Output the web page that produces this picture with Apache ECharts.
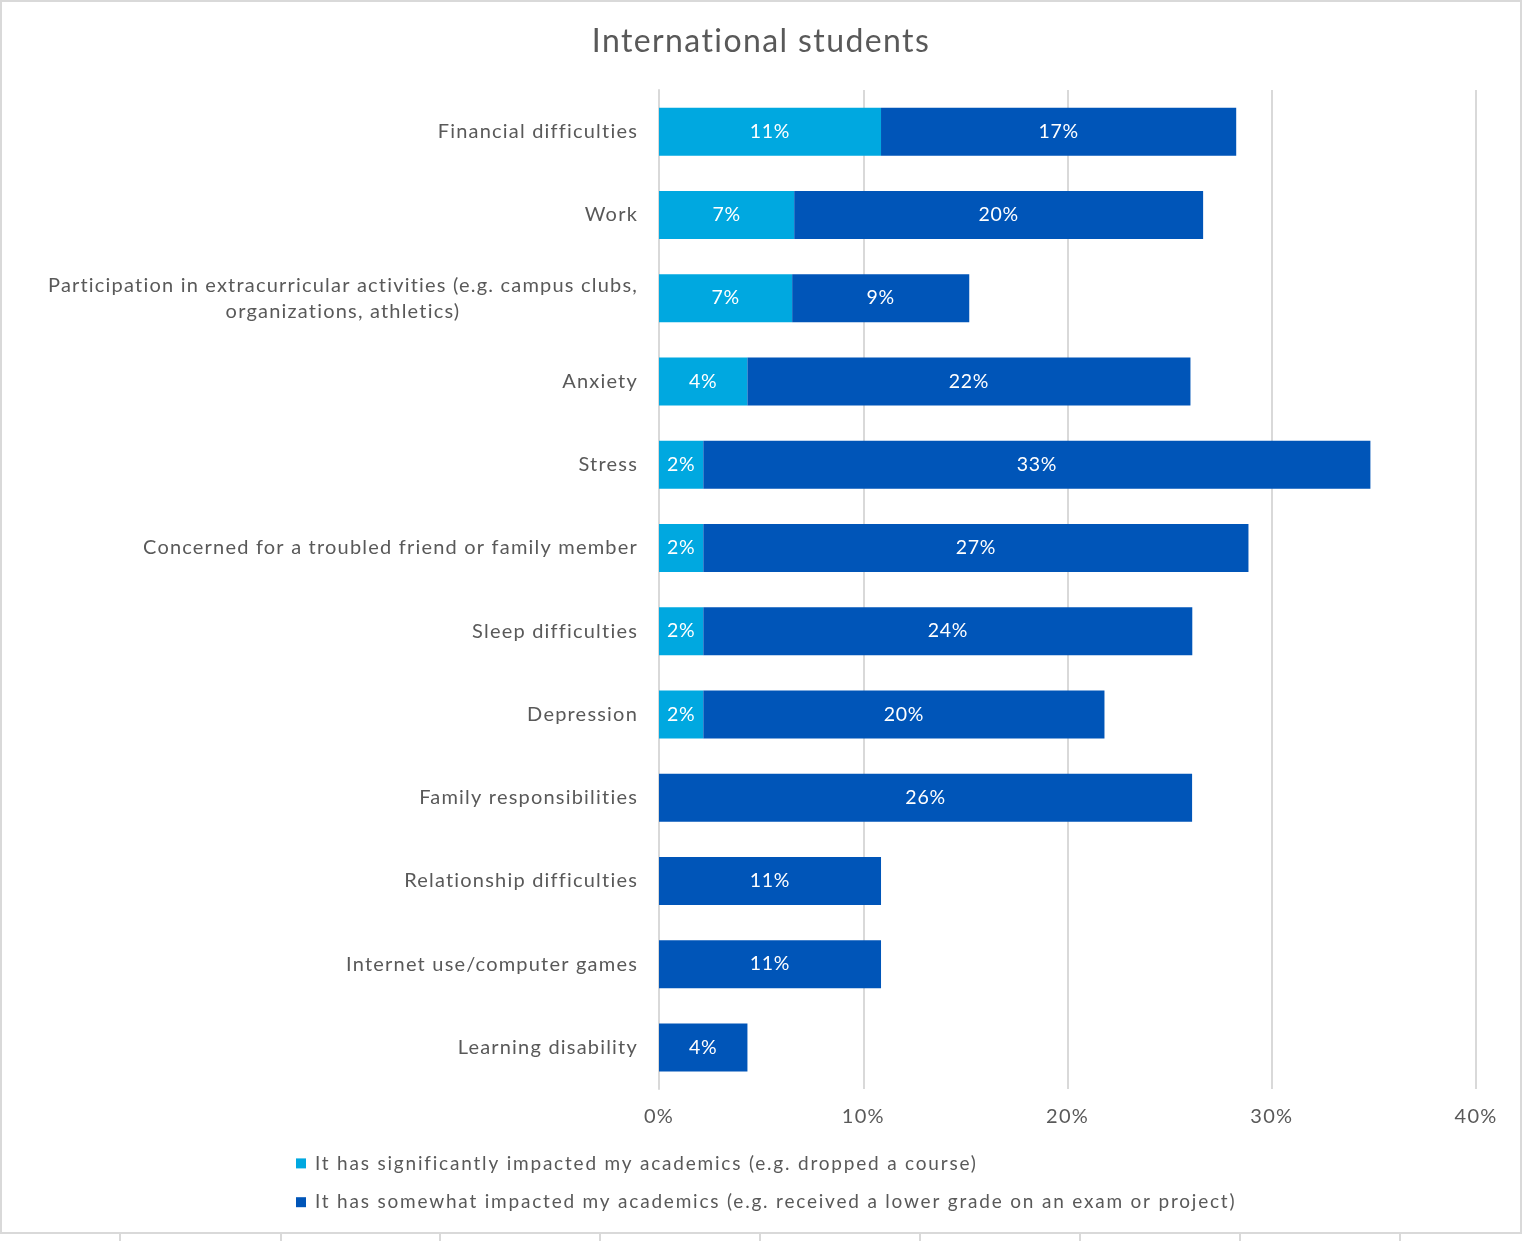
<!DOCTYPE html>
<html>
<head>
<meta charset="utf-8">
<script src="https://cdn.jsdelivr.net/npm/echarts@6/dist/echarts.min.js"></script>
<style>
html,body{margin:0;padding:0;background:#fff;}
#chart{width:1522px;height:1241px;}
</style>
</head>
<body>
<div id="chart"></div>
<script>
const categories = [
  'Financial difficulties',
  'Work',
  'Participation in extracurricular activities (e.g. campus clubs,\norganizations, athletics)',
  'Anxiety',
  'Stress',
  'Concerned for a troubled friend or family member',
  'Sleep difficulties',
  'Depression',
  'Family responsibilities',
  'Relationship difficulties',
  'Internet use/computer games',
  'Learning disability'
];
const significantly = [10.87, 6.62, 6.52, 4.33, 2.17, 2.17, 2.17, 2.17, 0, 0, 0, 0];
const somewhat = [17.39, 20.02, 8.67, 21.69, 32.66, 26.69, 23.94, 19.64, 26.10, 10.87, 10.87, 4.33];
const seriesNames = [
  'It has significantly impacted my academics (e.g. dropped a course)',
  'It has somewhat impacted my academics (e.g. received a lower grade on an exam or project)'
];
const xTicks = [0, 10, 20, 30, 40];

// widen text tracking a little to resemble the reference typeface
(function () {
  const proto = CanvasRenderingContext2D.prototype;
  const desc = Object.getOwnPropertyDescriptor(proto, 'font');
  if (!desc || !('letterSpacing' in proto)) return;
  const spacingBySize = {'20px': '1.2px', '19px': '1.8px', '32px': '1.4px', '19.5px': '0.7px'};
  Object.defineProperty(proto, 'font', {
    configurable: true,
    get() { return desc.get.call(this); },
    set(v) {
      desc.set.call(this, v);
      const m = /(\d+(?:\.\d+)?px)/.exec(v);
      this.letterSpacing = (m && spacingBySize[m[1]]) || '0px';
    }
  });
})();

const FONT = 'Lato';
const GREY = '#595959';
const chart = echarts.init(document.getElementById('chart'), null, {renderer: 'canvas'});

const labelCfg = {
  show: true,
  color: '#fff',
  fontFamily: FONT,
  fontSize: 19.5,
  formatter: p => p.value > 0 ? Math.round(p.value) + '%' : ''
};

chart.setOption({
  backgroundColor: '#fff',
  animation: false,
  title: {
    text: 'International students',
    left: 'center',
    top: 20,
    textStyle: {color: GREY, fontFamily: FONT, fontSize: 32, fontWeight: 'normal'}
  },
  legend: {
    orient: 'vertical',
    left: 291,
    top: 1148,
    itemWidth: 10,
    itemHeight: 10,
    itemGap: 18,
    icon: 'rect',
    textStyle: {color: GREY, fontFamily: FONT, fontSize: 19, padding: [0, 0, 0, 4]},
    data: seriesNames
  },
  grid: {left: 659, top: 90, width: 817, height: 999, containLabel: false},
  xAxis: {
    type: 'value',
    min: xTicks[0],
    max: xTicks[xTicks.length - 1],
    interval: 10,
    axisLine: {show: false},
    axisTick: {show: false},
    splitLine: {show: true, lineStyle: {color: '#d9d9d9', width: 2}},
    axisLabel: {
      color: GREY, fontFamily: FONT, fontSize: 20, margin: 17,
      formatter: v => v + '%'
    }
  },
  yAxis: {
    type: 'category',
    inverse: true,
    data: categories,
    axisLine: {show: true, lineStyle: {color: '#d9d9d9', width: 2}},
    axisTick: {show: false},
    axisLabel: {
      color: GREY, fontFamily: FONT, fontSize: 20, margin: 21, lineHeight: 26,
      formatter: v => v.split('\n').map(s => '{c|' + s + '}').join('\n'),
      rich: {c: {align: 'center', color: GREY, fontFamily: FONT, fontSize: 20, lineHeight: 26}}
    }
  },
  series: [
    {
      name: seriesNames[0], type: 'bar', stack: 'a', data: significantly,
      barWidth: 48,
      itemStyle: {color: '#00A8E0'},
      label: labelCfg
    },
    {
      name: seriesNames[1], type: 'bar', stack: 'a', data: somewhat,
      barWidth: 48,
      itemStyle: {color: '#0055B8'},
      label: labelCfg
    }
  ],
  graphic: [
    {type: 'rect', shape: {x: 1, y: 1, width: 1520, height: 1232}, style: {fill: 'none', stroke: '#d9d9d9', lineWidth: 2}, z: -1},
    ...[120, 281, 440, 600, 760, 920, 1080, 1240, 1400].map(x => ({
      type: 'line', shape: {x1: x, y1: 1234, x2: x, y2: 1241}, style: {stroke: '#d9d9d9', lineWidth: 2}
    }))
  ]
});
</script>
</body>
</html>
